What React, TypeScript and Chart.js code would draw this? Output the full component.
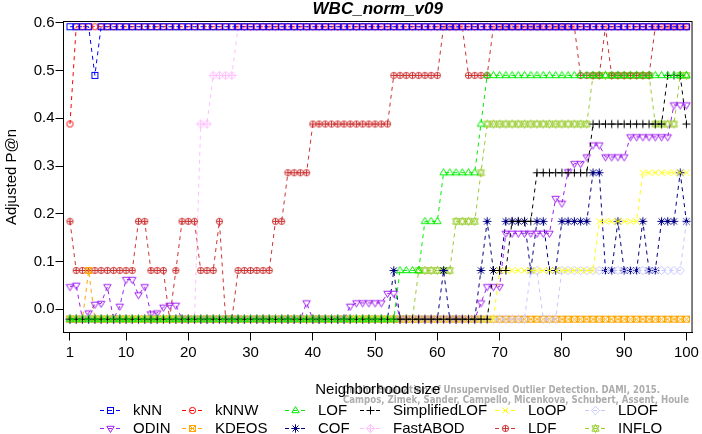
import React, { useEffect, useRef } from 'react';
import { Chart, registerables } from 'chart.js';

Chart.register(...registerables);

// ---------- data ----------
const neighborhoodSizes = Array.from({ length: 100 }, (_, i) => i + 1);
const xTickValues = [1, 10, 20, 30, 40, 50, 60, 70, 80, 90, 100];
const yTickValues = [0.0, 0.1, 0.2, 0.3, 0.4, 0.5, 0.6];

const kNN = [
  0.592, 0.592, 0.592, 0.592, 0.490, 0.592, 0.592, 0.592, 0.592, 0.592,
  0.592, 0.592, 0.592, 0.592, 0.592, 0.592, 0.592, 0.592, 0.592, 0.592,
  0.592, 0.592, 0.592, 0.592, 0.592, 0.592, 0.592, 0.592, 0.592, 0.592,
  0.592, 0.592, 0.592, 0.592, 0.592, 0.592, 0.592, 0.592, 0.592, 0.592,
  0.592, 0.592, 0.592, 0.592, 0.592, 0.592, 0.592, 0.592, 0.592, 0.592,
  0.592, 0.592, 0.592, 0.592, 0.592, 0.592, 0.592, 0.592, 0.592, 0.592,
  0.592, 0.592, 0.592, 0.592, 0.592, 0.592, 0.592, 0.592, 0.592, 0.592,
  0.592, 0.592, 0.592, 0.592, 0.592, 0.592, 0.592, 0.592, 0.592, 0.592,
  0.592, 0.592, 0.592, 0.592, 0.592, 0.592, 0.592, 0.592, 0.592, 0.592,
  0.592, 0.592, 0.592, 0.592, 0.592, 0.592, 0.592, 0.592, 0.592, 0.592,
];
const kNNW = [
  0.388, 0.592, 0.592, 0.592, 0.592, 0.592, 0.592, 0.592, 0.592, 0.592,
  0.592, 0.592, 0.592, 0.592, 0.592, 0.592, 0.592, 0.592, 0.592, 0.592,
  0.592, 0.592, 0.592, 0.592, 0.592, 0.592, 0.592, 0.592, 0.592, 0.592,
  0.592, 0.592, 0.592, 0.592, 0.592, 0.592, 0.592, 0.592, 0.592, 0.592,
  0.592, 0.592, 0.592, 0.592, 0.592, 0.592, 0.592, 0.592, 0.592, 0.592,
  0.592, 0.592, 0.592, 0.592, 0.592, 0.592, 0.592, 0.592, 0.592, 0.592,
  0.592, 0.592, 0.592, 0.592, 0.592, 0.592, 0.592, 0.592, 0.592, 0.592,
  0.592, 0.592, 0.592, 0.592, 0.592, 0.592, 0.592, 0.592, 0.592, 0.592,
  0.592, 0.592, 0.592, 0.592, 0.592, 0.592, 0.592, 0.592, 0.592, 0.592,
  0.592, 0.592, 0.592, 0.592, 0.592, 0.592, 0.592, 0.592, 0.592, 0.592,
];
const LOF = [
  -0.021, -0.021, -0.021, -0.021, -0.021, -0.021, -0.021, -0.021, -0.021, -0.021,
  -0.021, -0.021, -0.021, -0.021, -0.021, -0.021, -0.021, -0.021, -0.021, -0.021,
  -0.021, -0.021, -0.021, -0.021, -0.021, -0.021, -0.021, -0.021, -0.021, -0.021,
  -0.021, -0.021, -0.021, -0.021, -0.021, -0.021, -0.021, -0.021, -0.021, -0.021,
  -0.021, -0.021, -0.021, -0.021, -0.021, -0.021, -0.021, -0.021, -0.021, -0.021,
  -0.021, -0.021, -0.021, 0.081, 0.081, 0.081, 0.081, 0.184, 0.184, 0.184,
  0.286, 0.286, 0.286, 0.286, 0.286, 0.286, 0.388, 0.490, 0.490, 0.490,
  0.490, 0.490, 0.490, 0.490, 0.490, 0.490, 0.490, 0.490, 0.490, 0.490,
  0.490, 0.490, 0.490, 0.490, 0.490, 0.490, 0.490, 0.490, 0.490, 0.490,
  0.490, 0.490, 0.490, 0.490, 0.490, 0.490, 0.490, 0.490, 0.490, 0.490,
];
const SimplifiedLOF = [
  -0.021, -0.021, -0.021, -0.021, -0.021, -0.021, -0.021, -0.021, -0.021, -0.021,
  -0.021, -0.021, -0.021, -0.021, -0.021, -0.021, -0.021, -0.021, -0.021, -0.021,
  -0.021, -0.021, -0.021, -0.021, -0.021, -0.021, -0.021, -0.021, -0.021, -0.021,
  -0.021, -0.021, -0.021, -0.021, -0.021, -0.021, -0.021, -0.021, -0.021, -0.021,
  -0.021, -0.021, -0.021, -0.021, -0.021, -0.021, -0.021, -0.021, -0.021, -0.021,
  -0.021, -0.021, -0.021, -0.021, -0.021, -0.021, -0.021, -0.021, -0.021, -0.021,
  -0.021, -0.021, -0.021, -0.021, -0.021, -0.021, -0.021, -0.021, 0.081, 0.081,
  0.081, 0.184, 0.184, 0.184, 0.184, 0.286, 0.286, 0.286, 0.286, 0.286,
  0.286, 0.286, 0.286, 0.286, 0.388, 0.388, 0.388, 0.388, 0.388, 0.388,
  0.388, 0.388, 0.388, 0.388, 0.388, 0.388, 0.490, 0.490, 0.490, 0.388,
];
const LoOP = [
  -0.021, -0.021, -0.021, -0.021, -0.021, -0.021, -0.021, -0.021, -0.021, -0.021,
  -0.021, -0.021, -0.021, -0.021, -0.021, -0.021, -0.021, -0.021, -0.021, -0.021,
  -0.021, -0.021, -0.021, -0.021, -0.021, -0.021, -0.021, -0.021, -0.021, -0.021,
  -0.021, -0.021, -0.021, -0.021, -0.021, -0.021, -0.021, -0.021, -0.021, -0.021,
  -0.021, -0.021, -0.021, -0.021, -0.021, -0.021, -0.021, -0.021, -0.021, -0.021,
  -0.021, -0.021, -0.021, -0.021, -0.021, -0.021, -0.021, -0.021, -0.021, -0.021,
  -0.021, -0.021, -0.021, -0.021, -0.021, -0.021, -0.021, -0.021, -0.021, 0.081,
  0.081, 0.081, 0.081, 0.081, 0.081, 0.081, 0.081, 0.081, 0.081, 0.081,
  0.081, 0.081, 0.081, 0.081, 0.081, 0.184, 0.184, 0.184, 0.184, 0.184,
  0.184, 0.184, 0.286, 0.286, 0.286, 0.286, 0.286, 0.286, 0.286, 0.286,
];
const LDOF = [
  -0.021, -0.021, -0.021, -0.021, -0.021, -0.021, -0.021, -0.021, -0.021, -0.021,
  -0.021, -0.021, -0.021, -0.021, -0.021, -0.021, -0.021, -0.021, -0.021, -0.021,
  -0.021, -0.021, -0.021, -0.021, -0.021, -0.021, -0.021, -0.021, -0.021, -0.021,
  -0.021, -0.021, -0.021, -0.021, -0.021, -0.021, -0.021, -0.021, -0.021, -0.021,
  -0.021, -0.021, -0.021, -0.021, -0.021, -0.021, -0.021, -0.021, -0.021, -0.021,
  -0.021, -0.021, -0.021, -0.021, -0.021, -0.021, -0.021, -0.021, -0.021, -0.021,
  -0.021, -0.021, -0.021, -0.021, -0.021, -0.021, -0.021, -0.021, -0.021, -0.021,
  -0.021, -0.021, -0.021, -0.021, 0.081, 0.081, -0.021, -0.021, -0.021, 0.081,
  0.081, 0.081, 0.081, 0.081, 0.081, 0.081, 0.081, 0.081, 0.081, 0.081,
  0.081, 0.081, 0.081, 0.081, 0.081, 0.081, 0.081, 0.081, 0.081, 0.184,
];
const ODIN = [
  0.047, 0.050, -0.021, -0.008, 0.010, 0.012, 0.047, -0.021, 0.006, 0.062,
  0.062, 0.030, 0.047, -0.010, -0.008, 0.004, 0.008, 0.008, -0.021, -0.021,
  -0.021, -0.021, -0.021, -0.021, -0.021, -0.021, -0.021, -0.021, -0.021, -0.021,
  -0.021, -0.021, -0.021, -0.021, -0.021, -0.021, -0.021, -0.021, 0.013, -0.021,
  -0.021, -0.021, -0.021, -0.021, -0.021, 0.006, 0.013, 0.013, 0.013, 0.013,
  0.013, 0.033, 0.033, -0.021, -0.021, -0.021, -0.021, -0.021, -0.021, -0.021,
  -0.021, -0.021, -0.021, -0.021, -0.021, -0.021, 0.013, 0.047, 0.047, 0.047,
  0.159, 0.159, 0.159, 0.159, 0.159, 0.159, 0.159, 0.159, 0.232, 0.222,
  0.288, 0.305, 0.305, 0.319, 0.344, 0.344, 0.319, 0.319, 0.319, 0.319,
  0.361, 0.361, 0.361, 0.361, 0.361, 0.361, 0.361, 0.428, 0.428, 0.428,
];
const KDEOS = [
  -0.021, -0.021, -0.021, 0.081, -0.021, -0.021, -0.021, -0.021, -0.021, -0.021,
  -0.021, -0.021, -0.021, -0.021, -0.021, -0.021, -0.021, -0.021, -0.021, -0.021,
  -0.021, -0.021, -0.021, -0.021, -0.021, -0.021, -0.021, -0.021, -0.021, -0.021,
  -0.021, -0.021, -0.021, -0.021, -0.021, -0.021, -0.021, -0.021, -0.021, -0.021,
  -0.021, -0.021, -0.021, -0.021, -0.021, -0.021, -0.021, -0.021, -0.021, -0.021,
  -0.021, -0.021, -0.021, -0.021, -0.021, -0.021, -0.021, -0.021, -0.021, -0.021,
  -0.021, -0.021, -0.021, -0.021, -0.021, -0.021, -0.021, -0.021, -0.021, -0.021,
  -0.021, -0.021, -0.021, -0.021, -0.021, -0.021, -0.021, -0.021, -0.021, -0.021,
  -0.021, -0.021, -0.021, -0.021, -0.021, -0.021, -0.021, -0.021, -0.021, -0.021,
  -0.021, -0.021, -0.021, -0.021, -0.021, -0.021, -0.021, -0.021, -0.021, -0.021,
];
const COF = [
  -0.021, -0.021, -0.021, -0.021, -0.021, -0.021, -0.021, -0.021, -0.021, -0.021,
  -0.021, -0.021, -0.021, -0.021, -0.021, -0.021, -0.021, -0.021, -0.021, -0.021,
  -0.021, -0.021, -0.021, -0.021, -0.021, -0.021, -0.021, -0.021, -0.021, -0.021,
  -0.021, -0.021, -0.021, -0.021, -0.021, -0.021, -0.021, -0.021, -0.021, -0.021,
  -0.021, -0.021, -0.021, -0.021, -0.021, -0.021, -0.021, -0.021, -0.021, -0.021,
  -0.021, -0.021, 0.081, -0.021, -0.021, -0.021, -0.021, -0.021, -0.021, -0.021,
  0.081, -0.021, -0.021, -0.021, -0.021, -0.021, 0.081, 0.184, 0.081, 0.081,
  0.184, 0.184, 0.184, 0.184, 0.081, 0.184, 0.184, 0.081, 0.081, 0.184,
  0.184, 0.184, 0.184, 0.184, 0.286, 0.286, 0.081, 0.081, 0.184, 0.081,
  0.081, 0.081, 0.184, 0.081, 0.081, 0.184, 0.184, 0.184, 0.286, 0.184,
];
const FastABOD = [
  -0.021, -0.021, -0.021, -0.021, -0.021, -0.021, -0.021, -0.021, -0.021, -0.021,
  -0.021, -0.021, -0.021, -0.021, -0.021, -0.021, -0.021, -0.021, -0.021, -0.021,
  -0.021, 0.388, 0.388, 0.490, 0.490, 0.490, 0.490, 0.592, 0.592, 0.592,
  0.592, 0.592, 0.592, 0.592, 0.592, 0.592, 0.592, 0.592, 0.592, 0.592,
  0.592, 0.592, 0.592, 0.592, 0.592, 0.592, 0.592, 0.592, 0.592, 0.592,
  0.592, 0.592, 0.592, 0.592, 0.592, 0.592, 0.592, 0.592, 0.592, 0.592,
  0.592, 0.592, 0.592, 0.592, 0.592, 0.592, 0.592, 0.592, 0.592, 0.592,
  0.592, 0.592, 0.592, 0.592, 0.592, 0.592, 0.592, 0.592, 0.592, 0.592,
  0.592, 0.592, 0.592, 0.592, 0.592, 0.592, 0.592, 0.592, 0.592, 0.592,
  0.592, 0.592, 0.592, 0.592, 0.592, 0.592, 0.592, 0.592, 0.592, 0.592,
];
const LDF = [
  0.184, 0.081, 0.081, 0.081, 0.081, 0.081, 0.081, 0.081, 0.081, 0.081,
  0.081, 0.184, 0.184, 0.081, 0.081, 0.081, -0.021, 0.081, 0.184, 0.184,
  0.184, 0.081, 0.081, 0.081, 0.184, -0.021, -0.021, 0.081, 0.081, 0.081,
  0.081, 0.081, 0.081, 0.184, 0.184, 0.286, 0.286, 0.286, 0.286, 0.388,
  0.388, 0.388, 0.388, 0.388, 0.388, 0.388, 0.388, 0.388, 0.388, 0.388,
  0.388, 0.388, 0.490, 0.490, 0.490, 0.490, 0.490, 0.490, 0.490, 0.490,
  0.592, 0.592, 0.592, 0.592, 0.490, 0.490, 0.490, 0.490, 0.592, 0.592,
  0.592, 0.592, 0.592, 0.592, 0.592, 0.592, 0.592, 0.592, 0.592, 0.592,
  0.592, 0.592, 0.490, 0.490, 0.490, 0.490, 0.592, 0.490, 0.490, 0.490,
  0.490, 0.490, 0.490, 0.490, 0.592, 0.592, 0.592, 0.592, 0.592, 0.592,
];
const INFLO = [
  -0.021, -0.021, -0.021, -0.021, -0.021, -0.021, -0.021, -0.021, -0.021, -0.021,
  -0.021, -0.021, -0.021, -0.021, -0.021, -0.021, -0.021, -0.021, -0.021, -0.021,
  -0.021, -0.021, -0.021, -0.021, -0.021, -0.021, -0.021, -0.021, -0.021, -0.021,
  -0.021, -0.021, -0.021, -0.021, -0.021, -0.021, -0.021, -0.021, -0.021, -0.021,
  -0.021, -0.021, -0.021, -0.021, -0.021, -0.021, -0.021, -0.021, -0.021, -0.021,
  -0.021, -0.021, -0.021, -0.021, -0.021, -0.021, 0.081, 0.081, 0.081, 0.081,
  0.081, 0.081, 0.184, 0.184, 0.184, 0.184, 0.286, 0.388, 0.388, 0.388,
  0.388, 0.388, 0.388, 0.388, 0.388, 0.388, 0.388, 0.388, 0.388, 0.388,
  0.388, 0.388, 0.388, 0.388, 0.490, 0.490, 0.490, 0.490, 0.490, 0.490,
  0.490, 0.490, 0.490, 0.490, 0.388, 0.388, 0.388, 0.388, 0.490, 0.490,
];

const chartTitle = 'WBC_norm_v09';
const xTitle = 'Neighborhood size';
const yTitle = 'Adjusted P@n';
const creditLines = [
  'On the Evaluation of Unsupervised Outlier Detection. DAMI, 2015.',
  'Campos, Zimek, Sander, Campello, Micenkova, Schubert, Assent, Houle',
];

// legend order = drawing priority (first on top)
const seriesDefs = [
  { name: 'kNN', values: kNN, color: '#0000FF', sym: 'square' },
  { name: 'kNNW', values: kNNW, color: '#FF0000', sym: 'circle' },
  { name: 'LOF', values: LOF, color: '#00EE00', sym: 'triUp' },
  { name: 'SimplifiedLOF', values: SimplifiedLOF, color: '#000000', sym: 'plus' },
  { name: 'LoOP', values: LoOP, color: '#FFFF00', sym: 'times' },
  { name: 'LDOF', values: LDOF, color: '#C8C8FF', sym: 'diamond' },
  { name: 'ODIN', values: ODIN, color: '#A020F0', sym: 'triDown' },
  { name: 'KDEOS', values: KDEOS, color: '#FFA500', sym: 'boxX' },
  { name: 'COF', values: COF, color: '#000080', sym: 'asterisk' },
  { name: 'FastABOD', values: FastABOD, color: '#FFC0FF', sym: 'diamondPlus' },
  { name: 'LDF', values: LDF, color: '#CD3333', sym: 'circlePlus' },
  { name: 'INFLO', values: INFLO, color: '#9ACD32', sym: 'david' },
];

// legend grid (column-major like R), row1 / row2
const legendRows = [
  ['kNN', 'kNNW', 'LOF', 'SimplifiedLOF', 'LoOP', 'LDOF'],
  ['ODIN', 'KDEOS', 'COF', 'FastABOD', 'LDF', 'INFLO'],
];
const legendSymbolX = [110, 192, 295, 370, 505, 595];

const FONT = "'Liberation Sans', Arial, Helvetica, sans-serif";

function makeSymbol(kind: string, color: string): HTMLCanvasElement {
  const S = 15;
  const c = 7.5;
  const cv = document.createElement('canvas');
  cv.width = S;
  cv.height = S;
  const ctx = cv.getContext('2d') as CanvasRenderingContext2D;
  ctx.strokeStyle = color;
  ctx.lineWidth = 1;
  const s = 3.1;
  const line = (x1: number, y1: number, x2: number, y2: number) => {
    ctx.beginPath();
    ctx.moveTo(x1, y1);
    ctx.lineTo(x2, y2);
    ctx.stroke();
  };
  const poly = (pts: number[][]) => {
    ctx.beginPath();
    ctx.moveTo(pts[0][0], pts[0][1]);
    for (let i = 1; i < pts.length; i++) ctx.lineTo(pts[i][0], pts[i][1]);
    ctx.closePath();
    ctx.stroke();
  };
  const circle = (r: number) => {
    ctx.beginPath();
    ctx.arc(c, c, r, 0, Math.PI * 2);
    ctx.stroke();
  };
  const tri = (dir: number) => {
    const top = 4.0, bot = 2.2, hw = 3.7;
    poly([
      [c, c - dir * top],
      [c + hw, c + dir * bot],
      [c - hw, c + dir * bot],
    ]);
  };
  switch (kind) {
    case 'square':
      ctx.strokeRect(c - 3, c - 3, 6, 6);
      break;
    case 'circle':
      circle(s);
      break;
    case 'triUp':
      tri(1);
      break;
    case 'triDown':
      tri(-1);
      break;
    case 'plus':
      line(c - 4, c, c + 4, c);
      line(c, c - 4, c, c + 4);
      break;
    case 'times':
      line(c - 3, c - 3, c + 3, c + 3);
      line(c - 3, c + 3, c + 3, c - 3);
      break;
    case 'diamond':
      poly([[c, c - 4.2], [c + 4.2, c], [c, c + 4.2], [c - 4.2, c]]);
      break;
    case 'boxX':
      ctx.strokeRect(c - 3, c - 3, 6, 6);
      line(c - 3, c - 3, c + 3, c + 3);
      line(c - 3, c + 3, c + 3, c - 3);
      break;
    case 'asterisk':
      line(c - 3, c - 3, c + 3, c + 3);
      line(c - 3, c + 3, c + 3, c - 3);
      line(c - 4.2, c, c + 4.2, c);
      line(c, c - 4.2, c, c + 4.2);
      break;
    case 'diamondPlus':
      poly([[c, c - 4.2], [c + 4.2, c], [c, c + 4.2], [c - 4.2, c]]);
      line(c - 4.2, c, c + 4.2, c);
      line(c, c - 4.2, c, c + 4.2);
      break;
    case 'circlePlus':
      circle(s);
      line(c - s, c, c + s, c);
      line(c, c - s, c, c + s);
      break;
    case 'david': {
      const r = 4.2, hw = 3.6, yc = 2.7;
      poly([[c, c - r], [c + hw, c + yc], [c - hw, c + yc]]);
      poly([[c, c + r], [c + hw, c - yc], [c - hw, c - yc]]);
      break;
    }
  }
  return cv;
}

export default function App() {
  const ref = useRef<HTMLCanvasElement | null>(null);

  useEffect(() => {
    const canvas = ref.current;
    if (!canvas) return;
    const symbols: Record<string, HTMLCanvasElement> = {};
    seriesDefs.forEach((s) => {
      symbols[s.name] = makeSymbol(s.sym, s.color);
    });

    const decor = {
      id: 'decor',
      beforeDraw(chart: any) {
        const ctx = chart.ctx;
        ctx.save();
        ctx.fillStyle = '#FFFFFF';
        ctx.fillRect(0, 0, chart.width, chart.height);
        ctx.restore();
      },
      afterDraw(chart: any) {
        const ctx: CanvasRenderingContext2D = chart.ctx;
        const ca = chart.chartArea;
        ctx.save();
        // frame box
        ctx.strokeStyle = '#000000';
        ctx.lineWidth = 1;
        ctx.setLineDash([]);
        ctx.strokeRect(ca.left, ca.top, ca.right - ca.left, ca.bottom - ca.top);

        const cx = (ca.left + ca.right) / 2;
        // title
        ctx.fillStyle = '#000000';
        ctx.font = `italic bold 17px ${FONT}`;
        ctx.textAlign = 'center';
        ctx.textBaseline = 'alphabetic';
        ctx.fillText(chartTitle, cx, 13.5);

        // credit (gray)
        const fitText = (t: string, x: number, yb: number, w: number) => {
          ctx.save();
          ctx.font = `bold 10.5px 'DejaVu Sans', sans-serif`;
          const mw = ctx.measureText(t).width;
          ctx.translate(x, yb);
          ctx.scale(w / mw, 1);
          ctx.fillStyle = '#ADADAD';
          ctx.textAlign = 'left';
          ctx.textBaseline = 'alphabetic';
          ctx.fillText(t, 0, 0);
          ctx.restore();
        };
        fitText(creditLines[0], 342, 392.8, 318);
        fitText(creditLines[1], 343, 402.8, 346);

        // x title
        ctx.fillStyle = '#000000';
        ctx.font = `15px ${FONT}`;
        ctx.textAlign = 'center';
        ctx.textBaseline = 'alphabetic';
        ctx.fillText(xTitle, cx, 393.5);

        // y title
        ctx.save();
        ctx.translate(16, (ca.top + ca.bottom) / 2);
        ctx.rotate(-Math.PI / 2);
        ctx.fillText(yTitle, 0, 0);
        ctx.restore();

        // legend
        const rowY = [410, 428];
        legendRows.forEach((row, ri) => {
          row.forEach((name, ci) => {
            const def = seriesDefs.find((d) => d.name === name)!;
            const sx = legendSymbolX[ci];
            const y = rowY[ri];
            ctx.strokeStyle = def.color;
            ctx.lineWidth = 1;
            ctx.setLineDash([4, 4]);
            ctx.beginPath();
            ctx.moveTo(sx - 10, y + 0.5);
            ctx.lineTo(sx + 10, y + 0.5);
            ctx.stroke();
            ctx.setLineDash([]);
            const img = symbols[name];
            ctx.drawImage(img, sx - 7, y - 7);
            ctx.fillStyle = '#000000';
            ctx.font = `15px ${FONT}`;
            ctx.textAlign = 'left';
            ctx.textBaseline = 'alphabetic';
            ctx.fillText(name, sx + 23, y + 5.3);
          });
        });
        ctx.restore();
      },
    };

    const datasets = seriesDefs.map((s) => ({
      label: s.name,
      data: s.values.map((v, i) => ({ x: neighborhoodSizes[i], y: v })),
      borderColor: s.color,
      backgroundColor: s.color,
      borderWidth: 1,
      borderDash: [4, 4],
      pointStyle: symbols[s.name] as any,
      pointRadius: 3,
      pointHoverRadius: 3,
      fill: false,
      tension: 0,
    }));

    const chart = new Chart(canvas, {
      type: 'line',
      data: { datasets },
      options: {
        responsive: false,
        animation: false,
        devicePixelRatio: 1,
        events: [],
        layout: { padding: { left: 0, right: 7.5, top: 21.5, bottom: 61.5 } },
        plugins: {
          legend: { display: false },
          tooltip: { enabled: false },
          title: { display: false },
        },
        scales: {
          x: {
            type: 'linear',
            min: -0.04,
            max: 100.9,
            afterBuildTicks: (scale: any) => {
              scale.ticks = xTickValues.map((v) => ({ value: v }));
            },
            afterFit: (scale: any) => {
              scale.height = 40;
            },
            grid: {
              display: true,
              drawOnChartArea: false,
              drawTicks: true,
              tickLength: 8,
              color: '#000000',
              lineWidth: 1,
            },
            border: { display: true, color: '#000000', width: 1 },
            ticks: {
              autoSkip: false,
              maxRotation: 0,
              padding: 3,
              color: '#000000',
              font: { family: FONT, size: 15 },
              callback: (v: any) => String(v),
            },
          },
          y: {
            type: 'linear',
            min: -0.049,
            max: 0.603,
            afterBuildTicks: (scale: any) => {
              scale.ticks = yTickValues.map((v) => ({ value: v }));
            },
            afterFit: (scale: any) => {
              scale.width = 63.5;
            },
            grid: {
              display: true,
              drawOnChartArea: false,
              drawTicks: true,
              tickLength: 8,
              color: '#000000',
              lineWidth: 1,
            },
            border: { display: true, color: '#000000', width: 1 },
            ticks: {
              padding: 1,
              color: '#000000',
              font: { family: FONT, size: 15 },
              callback: (v: any) => Number(v).toFixed(1),
            },
          },
        },
      },
      plugins: [decor],
    } as any);

    return () => {
      chart.destroy();
    };
  }, []);

  return (
    <div style={{ position: 'fixed', left: 0, top: 0, width: 702, height: 434, background: '#FFFFFF' }}>
      <canvas ref={ref} width={702} height={434} style={{ display: 'block', width: 702, height: 434 }} />
    </div>
  );
}
